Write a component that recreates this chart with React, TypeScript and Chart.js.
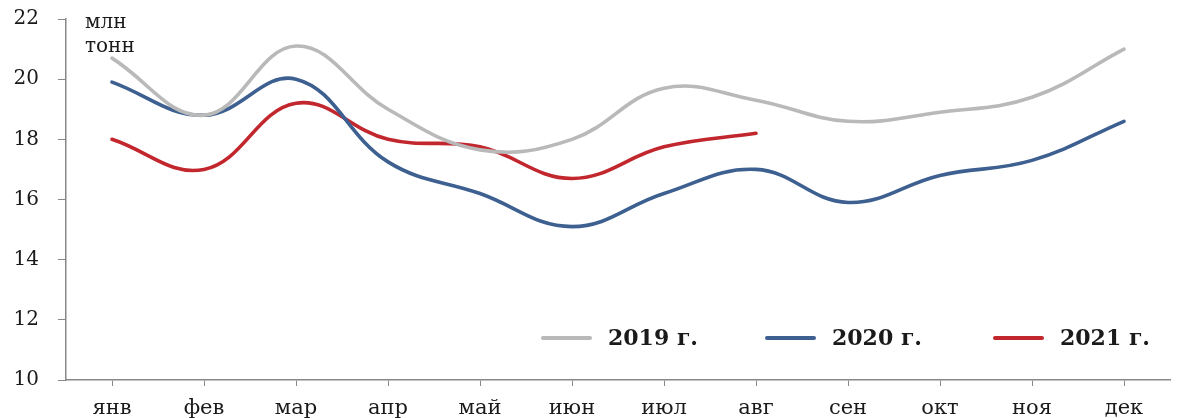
import React, { useEffect, useRef } from "react";
import { Chart, registerables } from "chart.js";

Chart.register(...registerables);

const months = ["янв", "фев", "мар", "апр", "май", "июн", "июл", "авг", "сен", "окт", "ноя", "дек"];
const series2019 = [20.7, 18.8, 21.1, 19.0, 17.65, 18.0, 19.7, 19.3, 18.6, 18.9, 19.4, 21.0];
const series2020 = [19.9, 18.8, 20.0, 17.25, 16.2, 15.1, 16.2, 17.0, 15.9, 16.8, 17.3, 18.6];
const series2021 = [18.0, 17.0, 19.2, 18.0, 17.75, 16.7, 17.75, 18.2];
const seriesLabels = ["2019 г.", "2020 г.", "2021 г."];
const unitLines = ["млн", "тонн"];
const yMin = 10;
const yMax = 22;
const yStep = 2;

const colors = ["#b9b9b9", "#3d6090", "#c1272d"];
const axisColor = "#888888";
const textColor = "#1a1a1a";
const serif = "'DejaVu Serif', 'Liberation Serif', serif";

const overlayPlugin = {
  id: "overlay",
  afterDatasetsDraw(chart: any) {
    const { ctx, chartArea } = chart;
    ctx.save();
    // unit label
    ctx.fillStyle = textColor;
    ctx.font = `20px ${serif}`;
    ctx.textAlign = "left";
    ctx.textBaseline = "alphabetic";
    unitLines.forEach((line, i) => {
      ctx.fillText(line, chartArea.left + 19, 28 + i * 24);
    });
    // legend inside plot area, bottom right
    const y = chartArea.bottom - 42;
    const starts = [chartArea.left + 477, chartArea.left + 701, chartArea.left + 929];
    chart.data.datasets.forEach((ds: any, i: number) => {
      const x0 = starts[i];
      ctx.strokeStyle = ds.borderColor;
      ctx.lineWidth = 4;
      ctx.lineCap = "round";
      ctx.beginPath();
      ctx.moveTo(x0, y);
      ctx.lineTo(x0 + 47, y);
      ctx.stroke();
      ctx.fillStyle = textColor;
      ctx.font = `bold 22px ${serif}`;
      ctx.textBaseline = "middle";
      ctx.fillText(ds.label, x0 + 65, y + 1);
    });
    ctx.restore();
  },
};

export default function App() {
  const canvasRef = useRef<HTMLCanvasElement | null>(null);

  useEffect(() => {
    const canvas = canvasRef.current;
    if (!canvas) return;
    const mk = (label: string, data: number[], color: string) => ({
      label,
      data,
      borderColor: color,
      backgroundColor: color,
      borderWidth: 3.6,
      pointRadius: 0,
      pointHoverRadius: 0,
      tension: 0.4,
      fill: false,
      borderCapStyle: "round" as const,
    });
    const chart = new Chart(canvas, {
      type: "line",
      data: {
        labels: months,
        datasets: [
          mk(seriesLabels[0], series2019, colors[0]),
          mk(seriesLabels[1], series2020, colors[1]),
          mk(seriesLabels[2], series2021, colors[2]),
        ],
      },
      options: {
        animation: false,
        responsive: false,
        maintainAspectRatio: false,
        layout: { padding: { top: 19, right: 8, left: 0, bottom: 0 } },
        plugins: {
          legend: { display: false },
          tooltip: { enabled: false },
        },
        scales: {
          x: {
            offset: true,
            grid: {
              offset: false,
              drawOnChartArea: false,
              drawTicks: true,
              tickLength: 6,
              color: axisColor,
            },
            border: { display: true, color: axisColor, width: 1.5 },
            ticks: {
              color: textColor,
              font: { family: serif, size: 21 },
              padding: 10,
              maxRotation: 0,
              autoSkip: false,
            },
            afterFit: (s: any) => {
              s.height = 38;
              s.paddingLeft = 0;
              s.paddingRight = 0;
            },
          },
          y: {
            min: yMin,
            max: yMax,
            grid: {
              drawOnChartArea: false,
              drawTicks: true,
              tickLength: 8,
              color: axisColor,
            },
            border: { display: true, color: axisColor, width: 1.5 },
            ticks: {
              stepSize: yStep,
              color: textColor,
              font: { family: serif, size: 20 },
              padding: 19,
            },
            afterFit: (s: any) => {
              s.width = 66;
              s.paddingTop = 0;
              s.paddingBottom = 0;
            },
          },
        },
      },
      plugins: [overlayPlugin],
    });
    return () => chart.destroy();
  }, []);

  return (
    <div style={{ position: "fixed", left: 0, top: 0, width: 1178, height: 418, background: "#fff" }}>
      <canvas ref={canvasRef} width={1178} height={418} style={{ display: "block" }} />
    </div>
  );
}
